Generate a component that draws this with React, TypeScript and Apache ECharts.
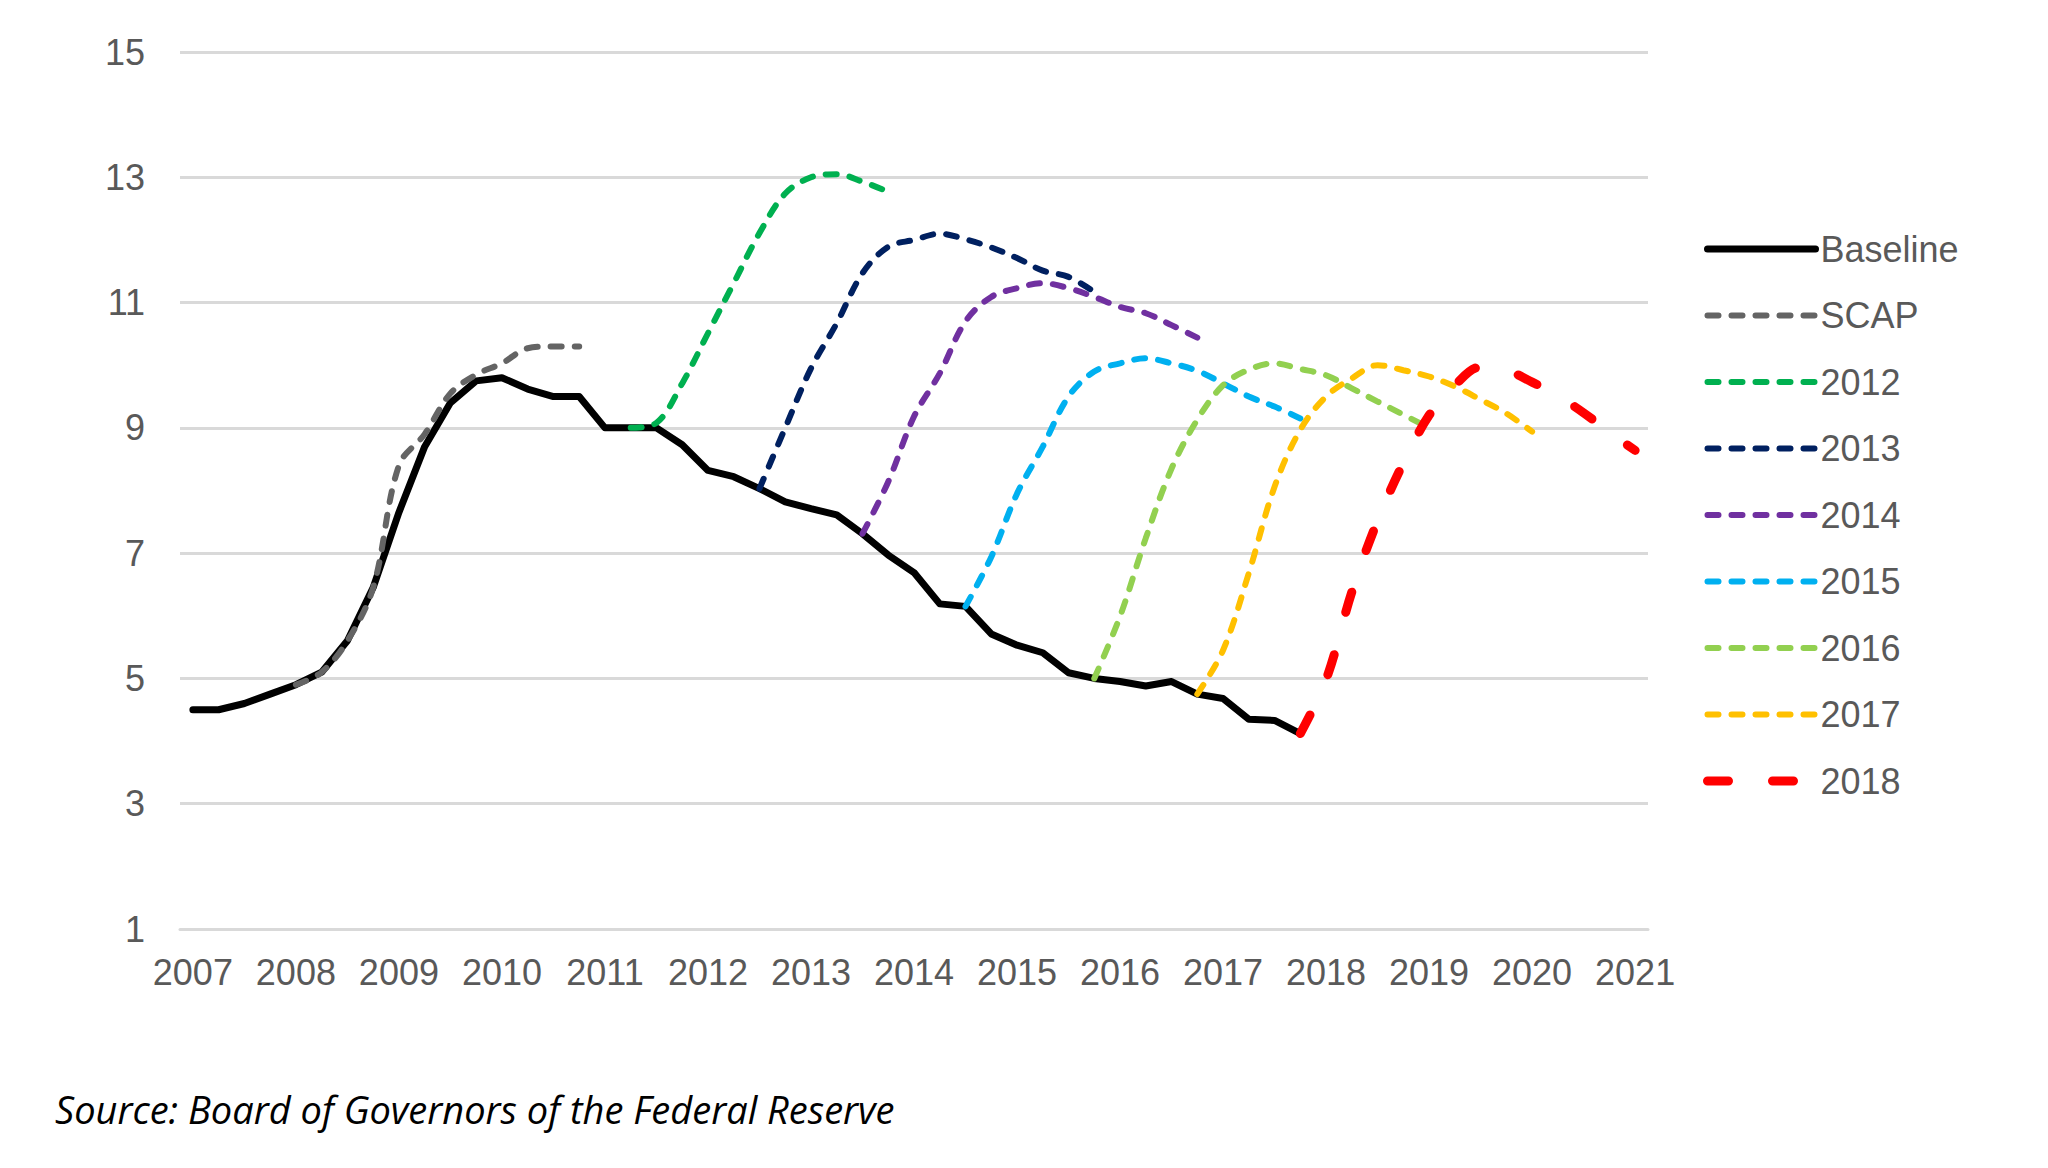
import React, { useEffect, useRef } from "react";
import * as echarts from "echarts";

// ---- categories (quarters 2007Q1 .. 2021Q1) ----
const years = ["2007", "2008", "2009", "2010", "2011", "2012", "2013", "2014", "2015", "2016", "2017", "2018", "2019", "2020", "2021"];
const quarterSuffix = ["Q1", "Q2", "Q3", "Q4"];
const categories: string[] = [];
years.forEach((y) => quarterSuffix.forEach((q) => categories.push(y + q)));
categories.splice(57);

const yTicks = { min: 1, max: 15, interval: 2 };

// ---- series values (unemployment rate, %) ----
const baselineStart = "2007Q1";
const baseline = [4.5, 4.5, 4.6, 4.75, 4.9, 5.1, 5.6, 6.45, 7.65, 8.7, 9.4, 9.75, 9.8, 9.62, 9.5, 9.5, 9.0, 9.0, 9.0, 8.73, 8.32, 8.22, 8.03, 7.82, 7.71, 7.61, 7.31, 6.97, 6.69, 6.19, 6.15, 5.71, 5.53, 5.41, 5.09, 5.0, 4.95, 4.88, 4.95, 4.75, 4.68, 4.35, 4.33, 4.12];

const scapStart = "2008Q1";
const scap = [4.9, 5.1, 5.6, 6.45, 8.4, 8.9, 9.55, 9.85, 10.03, 10.27, 10.3, 10.3];

const s2012Start = "2011Q2";
const s2012 = [9.0, 9.08, 9.71, 10.51, 11.31, 12.11, 12.74, 13.0, 13.05, 12.93, 12.77];

const s2013Start = "2012Q3";
const s2013 = [8.03, 9.0, 9.95, 10.67, 11.47, 11.89, 12.0, 12.1, 12.01, 11.88, 11.71, 11.51, 11.41, 11.17];

const s2014Start = "2013Q3";
const s2014 = [7.31, 8.14, 9.18, 9.87, 10.7, 11.09, 11.23, 11.31, 11.23, 11.09, 10.93, 10.83, 10.64, 10.44];

const s2015Start = "2014Q3";
const s2015 = [6.15, 6.94, 7.95, 8.7, 9.5, 9.9, 10.03, 10.11, 10.03, 9.91, 9.71, 9.5, 9.34, 9.15];

const s2016Start = "2015Q4";
const s2016 = [5.0, 5.99, 7.24, 8.35, 9.13, 9.68, 9.93, 10.03, 9.94, 9.84, 9.63, 9.42, 9.21, 9.0];

const s2017Start = "2016Q4";
const s2017 = [4.75, 5.45, 6.68, 8.06, 8.97, 9.5, 9.79, 10.0, 9.92, 9.82, 9.66, 9.45, 9.23, 8.94];

const s2018Start = "2017Q4";
const s2018 = [4.12, 4.98, 6.38, 7.52, 8.44, 9.2, 9.68, 9.97, 9.92, 9.73, 9.51, 9.24, 8.93, 8.64];

const sourceText = "Source: Board of Governors of the Federal Reserve";

function pairs(start: string, values: number[]) {
  const i0 = categories.indexOf(start);
  return values.map((v, i) => [categories[i0 + i], v]);
}

const scenarioDefs = [
  { name: "SCAP", color: "#646464", start: scapStart, values: scap },
  { name: "2012", color: "#00B050", start: s2012Start, values: s2012 },
  { name: "2013", color: "#002060", start: s2013Start, values: s2013 },
  { name: "2014", color: "#7030A0", start: s2014Start, values: s2014 },
  { name: "2015", color: "#00B0F0", start: s2015Start, values: s2015 },
  { name: "2016", color: "#92D050", start: s2016Start, values: s2016 },
  { name: "2017", color: "#FFC000", start: s2017Start, values: s2017 },
];

const FONT = "'Liberation Sans', Arial, sans-serif";
const GREY = "#595959";

export default function App() {
  const ref = useRef<HTMLDivElement>(null);

  useEffect(() => {
    document.body.style.margin = "0";
    const chart = echarts.init(ref.current!, null, { renderer: "svg" });

    const series: any[] = [
      {
        name: "Baseline",
        type: "line",
        data: pairs(baselineStart, baseline),
        symbol: "none",
        itemStyle: { color: "#000000" },
        lineStyle: { color: "#000000", width: 7, join: "round", cap: "round" },
        z: 2,
      },
    ];
    scenarioDefs.forEach((d) => {
      series.push({
        name: d.name,
        type: "line",
        data: pairs(d.start, d.values),
        symbol: "none",
        smooth: 0.35,
        itemStyle: { color: d.color },
        lineStyle: { color: d.color, width: 6, type: [11, 13], cap: "round" },
        z: 3,
      });
    });
    series.push({
      name: "2018",
      type: "line",
      data: pairs(s2018Start, s2018),
      symbol: "none",
      smooth: 0.35,
      itemStyle: { color: "#FF0000" },
      lineStyle: { color: "#FF0000", width: 9, type: [21, 44], cap: "round" },
      z: 4,
    });

    chart.setOption({
      animation: false,
      backgroundColor: "#ffffff",
      grid: { left: 180, right: 400, top: 52, bottom: 239 },
      xAxis: {
        type: "category",
        data: categories,
        boundaryGap: true,
        axisTick: { show: false },
        axisLine: { show: true, lineStyle: { color: "#D9D9D9", width: 3 } },
        splitLine: { show: false },
        axisLabel: {
          interval: 3,
          margin: 25,
          color: GREY,
          fontSize: 36,
          fontFamily: FONT,
          formatter: (v: string) => v.slice(0, 4),
        },
      },
      yAxis: {
        type: "value",
        min: yTicks.min,
        max: yTicks.max,
        interval: yTicks.interval,
        axisLine: { show: false },
        axisTick: { show: false },
        splitLine: { lineStyle: { color: "#D9D9D9", width: 3 } },
        axisLabel: { margin: 35, color: GREY, fontSize: 36, fontFamily: FONT },
      },
      legend: {
        orient: "vertical",
        left: 1703,
        top: 229,
        padding: 0,
        itemWidth: 108,
        itemHeight: 14,
        itemGap: 26.5,
        data: ["Baseline", "SCAP", "2012", "2013", "2014", "2015", "2016", "2017", "2018"],
        textStyle: { fontSize: 36, color: GREY, fontFamily: FONT, lineHeight: 40 },
        lineStyle: { width: "inherit" },
        itemStyle: { opacity: 0, borderWidth: 0 },
      },
      graphic: [
        {
          type: "text",
          x: 55,
          y: 1109,
          style: {
            text: sourceText,
            font: "italic 38px 'Open Sans'",
            fill: "#000000",
            verticalAlign: "middle",
            align: "left",
          },
        },
      ],
      series,
    });

    return () => chart.dispose();
  }, []);

  return <div ref={ref} style={{ position: "absolute", left: 0, top: 0, width: 2048, height: 1168 }} />;
}
